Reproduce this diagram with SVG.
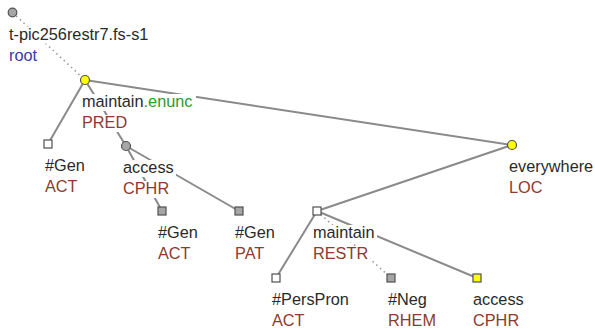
<svg xmlns="http://www.w3.org/2000/svg" width="595" height="329" viewBox="0 0 595 329">
<style>
.e{stroke:#8a8a8a;stroke-width:2;fill:none;stroke-linecap:round}
.d{stroke:#9a9a9a;stroke-width:1.6;fill:none;stroke-dasharray:1.5 3.5}
.bg{fill:#fff}
.n{stroke:#505050;stroke-width:1.2}
.w{fill:#fff}.g{fill:#a6a6a6}.y{fill:#ffff00}
text{font-family:"Liberation Sans",Arial,sans-serif;font-size:16.3px;fill:#2a2a2a}
.f{fill:#8c3b2e}
.r{fill:#3a3aa6}
.gr{fill:#2e9a2e}
</style>
<rect width="595" height="329" fill="#fff"/>
<g id="edges">
<line class="d" x1="12.5" y1="12.5" x2="85" y2="80"/>
<line class="e" x1="85" y1="80" x2="48" y2="144"/>
<line class="e" x1="85" y1="80" x2="126" y2="146"/>
<line class="e" x1="85" y1="80" x2="512" y2="145"/>
<line class="e" x1="126" y1="146" x2="162" y2="211"/>
<line class="e" x1="126" y1="146" x2="239" y2="211"/>
<line class="e" x1="512" y1="145" x2="317" y2="211"/>
<line class="e" x1="317" y1="211" x2="276" y2="278"/>
<line class="d" x1="317" y1="211" x2="391" y2="278"/>
<line class="e" x1="317" y1="211" x2="477" y2="278"/>
</g>
<g id="root">
<rect class="bg" x="7" y="26.5" width="144" height="17"/>
<rect class="bg" x="7" y="47.5" width="32" height="17"/>
<circle class="n g" cx="12.5" cy="12.5" r="4.3"/>
<text x="9" y="39.5">t-pic256restr7.fs-s1</text>
<text class="r" x="9" y="60.5">root</text>
</g>
<g id="maintain_pred">
<rect class="bg" x="80" y="94" width="116" height="17"/>
<rect class="bg" x="80" y="115" width="49" height="17"/>
<circle class="n y" cx="85" cy="80" r="4.5"/>
<text x="82" y="107">maintain<tspan class="gr">.enunc</tspan></text>
<text class="f" x="82" y="128">PRED</text>
</g>
<g id="gen_act1">
<rect class="bg" x="43" y="158" width="44" height="17"/>
<rect class="bg" x="43" y="179" width="37" height="17"/>
<rect class="n w" x="44" y="140" width="8" height="8"/>
<text x="45" y="171">#Gen</text>
<text class="f" x="45" y="192">ACT</text>
</g>
<g id="access_cphr1">
<rect class="bg" x="121" y="160" width="55" height="17"/>
<rect class="bg" x="121" y="181" width="50" height="17"/>
<circle class="n g" cx="126" cy="146" r="4.5"/>
<text x="123" y="173">access</text>
<text class="f" x="123" y="194">CPHR</text>
</g>
<g id="gen_act2">
<rect class="bg" x="156" y="225" width="44" height="17"/>
<rect class="bg" x="156" y="246" width="37" height="17"/>
<rect class="n g" x="158" y="207" width="8" height="8"/>
<text x="158" y="238">#Gen</text>
<text class="f" x="158" y="259">ACT</text>
</g>
<g id="gen_pat">
<rect class="bg" x="233" y="225" width="44" height="17"/>
<rect class="bg" x="233" y="246" width="36" height="17"/>
<rect class="n g" x="235" y="207" width="8" height="8"/>
<text x="235" y="238">#Gen</text>
<text class="f" x="235" y="259">PAT</text>
</g>
<g id="everywhere_loc">
<rect class="bg" x="507" y="159" width="88" height="17"/>
<rect class="bg" x="507" y="180" width="38" height="17"/>
<circle class="n y" cx="512" cy="145" r="4.5"/>
<text x="509" y="172">everywhere</text>
<text class="f" x="509" y="193">LOC</text>
</g>
<g id="maintain_restr">
<rect class="bg" x="311" y="225" width="66" height="17"/>
<rect class="bg" x="311" y="246" width="59" height="17"/>
<rect class="n w" x="313" y="207" width="8" height="8"/>
<text x="313" y="238">maintain</text>
<text class="f" x="313" y="259">RESTR</text>
</g>
<g id="perspron_act">
<rect class="bg" x="270" y="292" width="81" height="17"/>
<rect class="bg" x="270" y="313" width="37" height="16"/>
<rect class="n w" x="272" y="274" width="8" height="8"/>
<text x="272" y="305">#PersPron</text>
<text class="f" x="272" y="326">ACT</text>
</g>
<g id="neg_rhem">
<rect class="bg" x="386" y="292" width="43" height="17"/>
<rect class="bg" x="386" y="313" width="52" height="16"/>
<rect class="n g" x="387" y="274" width="8" height="8"/>
<text x="388" y="305">#Neg</text>
<text class="f" x="388" y="326">RHEM</text>
</g>
<g id="access_cphr2">
<rect class="bg" x="471" y="292" width="55" height="17"/>
<rect class="bg" x="471" y="313" width="50" height="16"/>
<rect class="n y" x="473" y="274" width="8" height="8"/>
<text x="473" y="305">access</text>
<text class="f" x="473" y="326">CPHR</text>
</g>
</svg>
